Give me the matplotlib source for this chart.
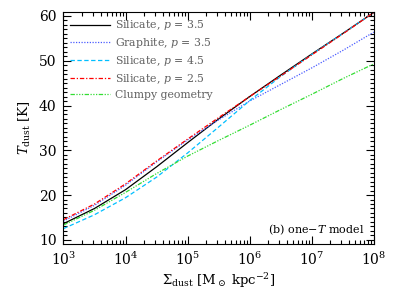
import numpy as np
import matplotlib
matplotlib.use("Agg")
import matplotlib.pyplot as plt
from matplotlib.ticker import MultipleLocator, LogLocator, NullFormatter

# -------------------------
# Data
# -------------------------

log_sigma = [3.0, 3.5, 4.0, 4.5, 5.0, 5.5, 6.0, 6.5, 7.0, 7.5, 8.0]

t_sil_35 = [13.6, 17.0, 21.2, 26.3, 31.7, 37.0, 42.0, 46.8, 51.5, 56.1, 60.8]
t_gra_35 = [14.2, 17.7, 22.2, 27.4, 32.3, 36.8, 41.0, 44.7, 48.4, 52.3, 56.4]
t_sil_45 = [12.5, 15.6, 19.4, 24.0, 29.4, 35.2, 41.1, 46.5, 51.4, 56.1, 60.8]
t_sil_25 = [14.5, 18.0, 22.5, 27.6, 32.5, 37.3, 42.0, 46.6, 51.3, 56.0, 60.8]
t_clumpy = [13.3, 16.6, 20.6, 24.8, 28.7, 32.2, 35.6, 39.1, 42.5, 46.0, 49.3]

labels = [
    r"Silicate, $p$ = 3.5",
    r"Graphite, $p$ = 3.5",
    r"Silicate, $p$ = 4.5",
    r"Silicate, $p$ = 2.5",
    "Clumpy geometry",
]

# -------------------------
# Plot
# -------------------------

plt.rcParams["font.family"] = "DejaVu Serif"
plt.rcParams["mathtext.fontset"] = "dejavuserif"

sigma = 10.0 ** np.array(log_sigma)

fig = plt.figure(figsize=(3.99, 2.91), dpi=100)
ax = fig.add_axes([0.159, 0.162, 0.778, 0.797])

ax.plot(sigma, t_sil_35, color="black", lw=0.9, ls="-", label=labels[0])
ax.plot(sigma, t_gra_35, color="#4a5cff", lw=0.9, ls=(0, (1, 1.2)), label=labels[1])
ax.plot(sigma, t_sil_45, color="#00bfff", lw=0.9, ls=(0, (3.5, 2)), label=labels[2])
ax.plot(sigma, t_sil_25, color="red", lw=0.9, ls=(0, (3.5, 1.5, 1, 1.5)), label=labels[3])
ax.plot(sigma, t_clumpy, color="#33dd33", lw=0.9,
        ls=(0, (3.5, 1.2, 1, 1.2, 1, 1.2, 1, 1.2)), label=labels[4])

ax.set_xscale("log")
ax.set_xlim(1e3, 1e8)
ax.set_ylim(9.1, 60.9)

ax.yaxis.set_major_locator(MultipleLocator(10))
ax.yaxis.set_minor_locator(MultipleLocator(1))
ax.xaxis.set_major_locator(LogLocator(base=10, numticks=10))
ax.xaxis.set_minor_locator(LogLocator(base=10, subs=np.arange(2, 10), numticks=20))
ax.xaxis.set_minor_formatter(NullFormatter())

ax.tick_params(which="both", direction="in", top=True, right=True, width=0.8)
ax.tick_params(which="major", length=6, labelsize=10, pad=5)
ax.tick_params(which="minor", length=3)
for s in ax.spines.values():
    s.set_linewidth(0.8)

ax.set_xlabel(r"$\Sigma_{\rm dust}$ [M$_\odot$ kpc$^{-2}$]", fontsize=9.5, labelpad=2)
ax.set_ylabel(r"$T_{\rm dust}$ [K]", fontsize=9.5, labelpad=4)

leg = ax.legend(loc="upper left", frameon=False, fontsize=7.8, handlelength=3.7,
                handletextpad=0.5, labelspacing=0.35, borderaxespad=0.3,
                borderpad=0.3)
for t in leg.get_texts():
    t.set_color("#606060")

ax.text(0.97, 0.03, r"(b) one$-T$ model", transform=ax.transAxes,
        ha="right", va="bottom", fontsize=8)

fig.savefig("out.png", dpi=100)
